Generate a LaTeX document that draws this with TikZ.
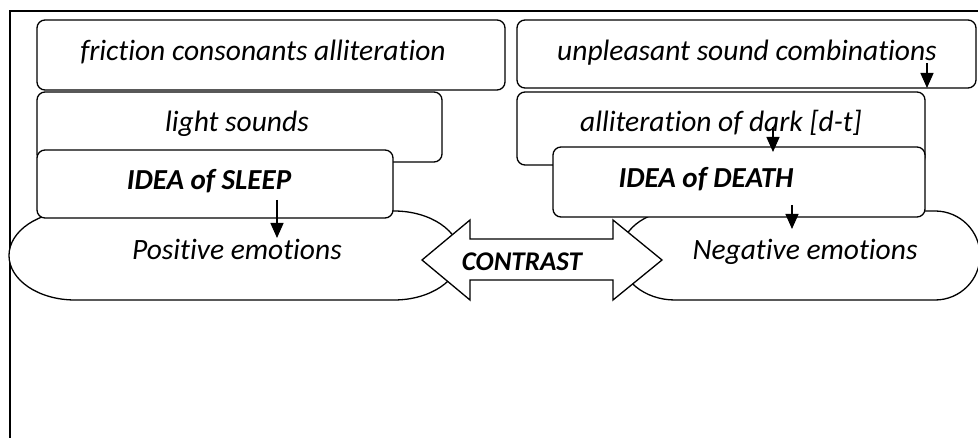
\documentclass[tikz,border=0pt]{standalone}
\usepackage{fontspec}
\setmainfont{Carlito}[Ligatures=NoCommon]
\usetikzlibrary{arrows.meta}
\tikzset{
  frameline/.style={line width=1.6pt},
  boxshape/.style={draw, fill=white, rounded corners=8pt, line width=1.3pt},
  txt/.style={font=\fontsize{29.5}{34}\selectfont\itshape, inner sep=0pt, anchor=base},
  btxt/.style={font=\fontsize{29}{34}\selectfont\bfseries\itshape, inner sep=0pt, anchor=base},
  emoshape/.style={draw, fill=white, line width=1.3pt},
  arr/.style={line width=1.4pt, -{Triangle[length=15pt,width=13pt]}}
}
\begin{document}
\begin{tikzpicture}[x=1pt,y=-1pt]
\useasboundingbox (0,0) rectangle (978,438);
% frame
\draw[frameline] (9,11) -- (978,11);
\draw[frameline] (10,11) -- (10,438);
% left column
\draw[boxshape] (37,20) rectangle (505,90);
\node[txt] (tfric) at (263,61) {friction consonants alliteration};
\draw[boxshape] (37,92) rectangle (442,162);
\node[txt] (tlight) at (237,132) {light sounds};
\draw[emoshape] (75,211) -- (394,211) arc[start angle=-90, end angle=90, x radius=66, y radius=44.5]
  -- (75,300) arc[start angle=90, end angle=270, x radius=66, y radius=44.5] -- cycle;
\node[txt] (tpos) at (237,260) {Positive emotions};
\draw[boxshape] (37,150) rectangle (393,218);
\node[btxt] (tsleep) at (209,190) {IDEA of SLEEP};
% right column
\draw[boxshape] (517,20) rectangle (976,88);
\node[txt] (tunpl) at (747,61) {unpleasant sound combinations};
\draw[boxshape] (517,92) rectangle (925,165);
\node[txt] (tdark) at (721,132) {alliteration of dark [d-t]};
\draw[emoshape] (675,211) -- (935,211) arc[start angle=-90, end angle=90, x radius=45, y radius=44.5]
  -- (675,300) arc[start angle=90, end angle=270, x radius=55, y radius=44.5] -- cycle;
\node[txt] (tneg) at (805,260) {Negative emotions};
\draw[boxshape] (553,147) rectangle (925,217);
\node[btxt] (tdeath) at (706,188) {IDEA of DEATH};
% contrast double arrow
\draw[emoshape, line join=miter] (422,260) -- (470,220) -- (470,239) -- (613,239) -- (613,220) -- (662,260)
  -- (613,300) -- (613,280) -- (470,280) -- (470,300) -- cycle;
\node[btxt, font=\fontsize{27}{31}\selectfont\bfseries\itshape] (tcon) at (522,271) {CONTRAST};
% small arrows
\coordinate (a1s) at (277,200); \coordinate (a1e) at (277,238);
\coordinate (a2s) at (927,63);  \coordinate (a2e) at (927,88);
\coordinate (a3s) at (773,127); \coordinate (a3e) at (773,152);
\coordinate (a4s) at (792,205); \coordinate (a4e) at (792,229);
\draw[arr] (a1s) -- (a1e);
\draw[arr] (a2s) -- (a2e);
\draw[arr] (a3s) -- (a3e);
\draw[arr] (a4s) -- (a4e);
\end{tikzpicture}
\end{document}
